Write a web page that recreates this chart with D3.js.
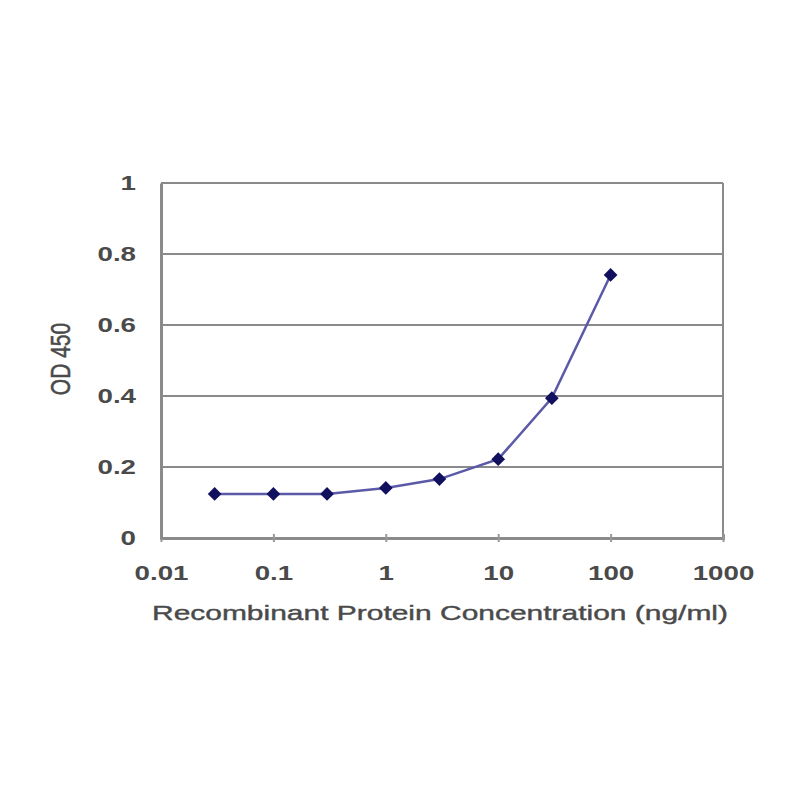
<!DOCTYPE html>
<html><head><meta charset="utf-8">
<script src="https://cdn.jsdelivr.net/npm/d3@7"></script>
<style>body{margin:0;background:#fff}</style>
</head><body>
<svg id="c" width="800" height="800"></svg>
<script>
const concentrations = [0.03, 0.1, 0.3, 1, 3, 10, 30, 100];
const odValues = [0.124, 0.124, 0.124, 0.141, 0.166, 0.222, 0.394, 0.741];
const xTicks = [0.01, 0.1, 1, 10, 100, 1000];
const xTickLabels = ["0.01", "0.1", "1", "10", "100", "1000"];
const yTicks = [0, 0.2, 0.4, 0.6, 0.8, 1];
const yTickLabels = ["0", "0.2", "0.4", "0.6", "0.8", "1"];

const svg = d3.select("#c");
const L = 161, R = 723, T = 183, B = 538;
const x = d3.scaleLog().domain([0.01, 1000]).range([L, R]);
const y = d3.scaleLinear().domain([0, 1]).range([B, T]);
const font = "Liberation Sans, Arial, sans-serif";
const textCol = "#4a4a4a";
const sx = 1.32;

// gridlines
svg.append("g").selectAll("line").data(yTicks.slice(1)).join("line")
  .attr("x1", L).attr("x2", R).attr("y1", d => y(d)).attr("y2", d => y(d))
  .attr("stroke", "#8a8a8a").attr("stroke-width", 2);
// right border
svg.append("line").attr("x1", R).attr("x2", R).attr("y1", T).attr("y2", B)
  .attr("stroke", "#8a8a8a").attr("stroke-width", 2);

// axes
const xAxis = d3.axisBottom(x).tickValues(xTicks).tickFormat((d, i) => xTickLabels[i]).tickSize(-4).tickPadding(0);
const gx = svg.append("g").attr("transform", `translate(0,${B})`).call(xAxis);
gx.select(".domain").attr("stroke", "#8a8a8a").attr("stroke-width", 3);
gx.selectAll(".tick line").attr("stroke", "#999").attr("stroke-width", 2).attr("y2", 4).attr("y1", -4);
gx.selectAll("text").attr("font-family", font).attr("font-size", 21).attr("fill", textCol)
  .attr("font-weight", "bold").attr("y", 42).attr("dy", "0")
  .attr("transform", `scale(${sx},1)`);

const yAxis = d3.axisLeft(y).tickValues(yTicks).tickFormat((d, i) => yTickLabels[i]).tickSize(0).tickPadding(0);
const gy = svg.append("g").attr("transform", `translate(${L},0)`).call(yAxis);
gy.select(".domain").attr("stroke", "#8a8a8a").attr("stroke-width", 3);
gy.selectAll("text").attr("font-family", font).attr("font-size", 21).attr("fill", textCol)
  .attr("font-weight", "bold").attr("x", -25 / sx).attr("transform", `scale(${sx},1)`);

// line
const data = concentrations.map((c, i) => ({c, v: odValues[i]}));
svg.append("path").datum(data)
  .attr("d", d3.line().x(d => x(d.c)).y(d => y(d.v)))
  .attr("fill", "none").attr("stroke", "#5a5aa8").attr("stroke-width", 2.5);
svg.append("g").selectAll("path").data(data).join("path")
  .attr("transform", d => `translate(${x(d.c)},${y(d.v)})`)
  .attr("d", d3.symbol(d3.symbolDiamond2, 120)())
  .attr("fill", "#10105e");

// axis titles
svg.append("text").attr("x", 152).attr("y", 620)
  .attr("font-family", font).attr("font-size", 21).attr("fill", textCol)
  .attr("stroke", textCol).attr("stroke-width", 0.4)
  .attr("textLength", 576).attr("lengthAdjust", "spacingAndGlyphs")
  .text("Recombinant Protein Concentration (ng/ml)");
svg.append("text").attr("transform", "translate(60,359) rotate(-90) scale(1,1.3)").attr("text-anchor", "middle")
  .attr("dy", "0.36em")
  .attr("font-family", font).attr("font-size", 21).attr("fill", textCol)
  .attr("stroke", textCol).attr("stroke-width", 0.4)
  .text("OD 450");
</script>
</body></html>
